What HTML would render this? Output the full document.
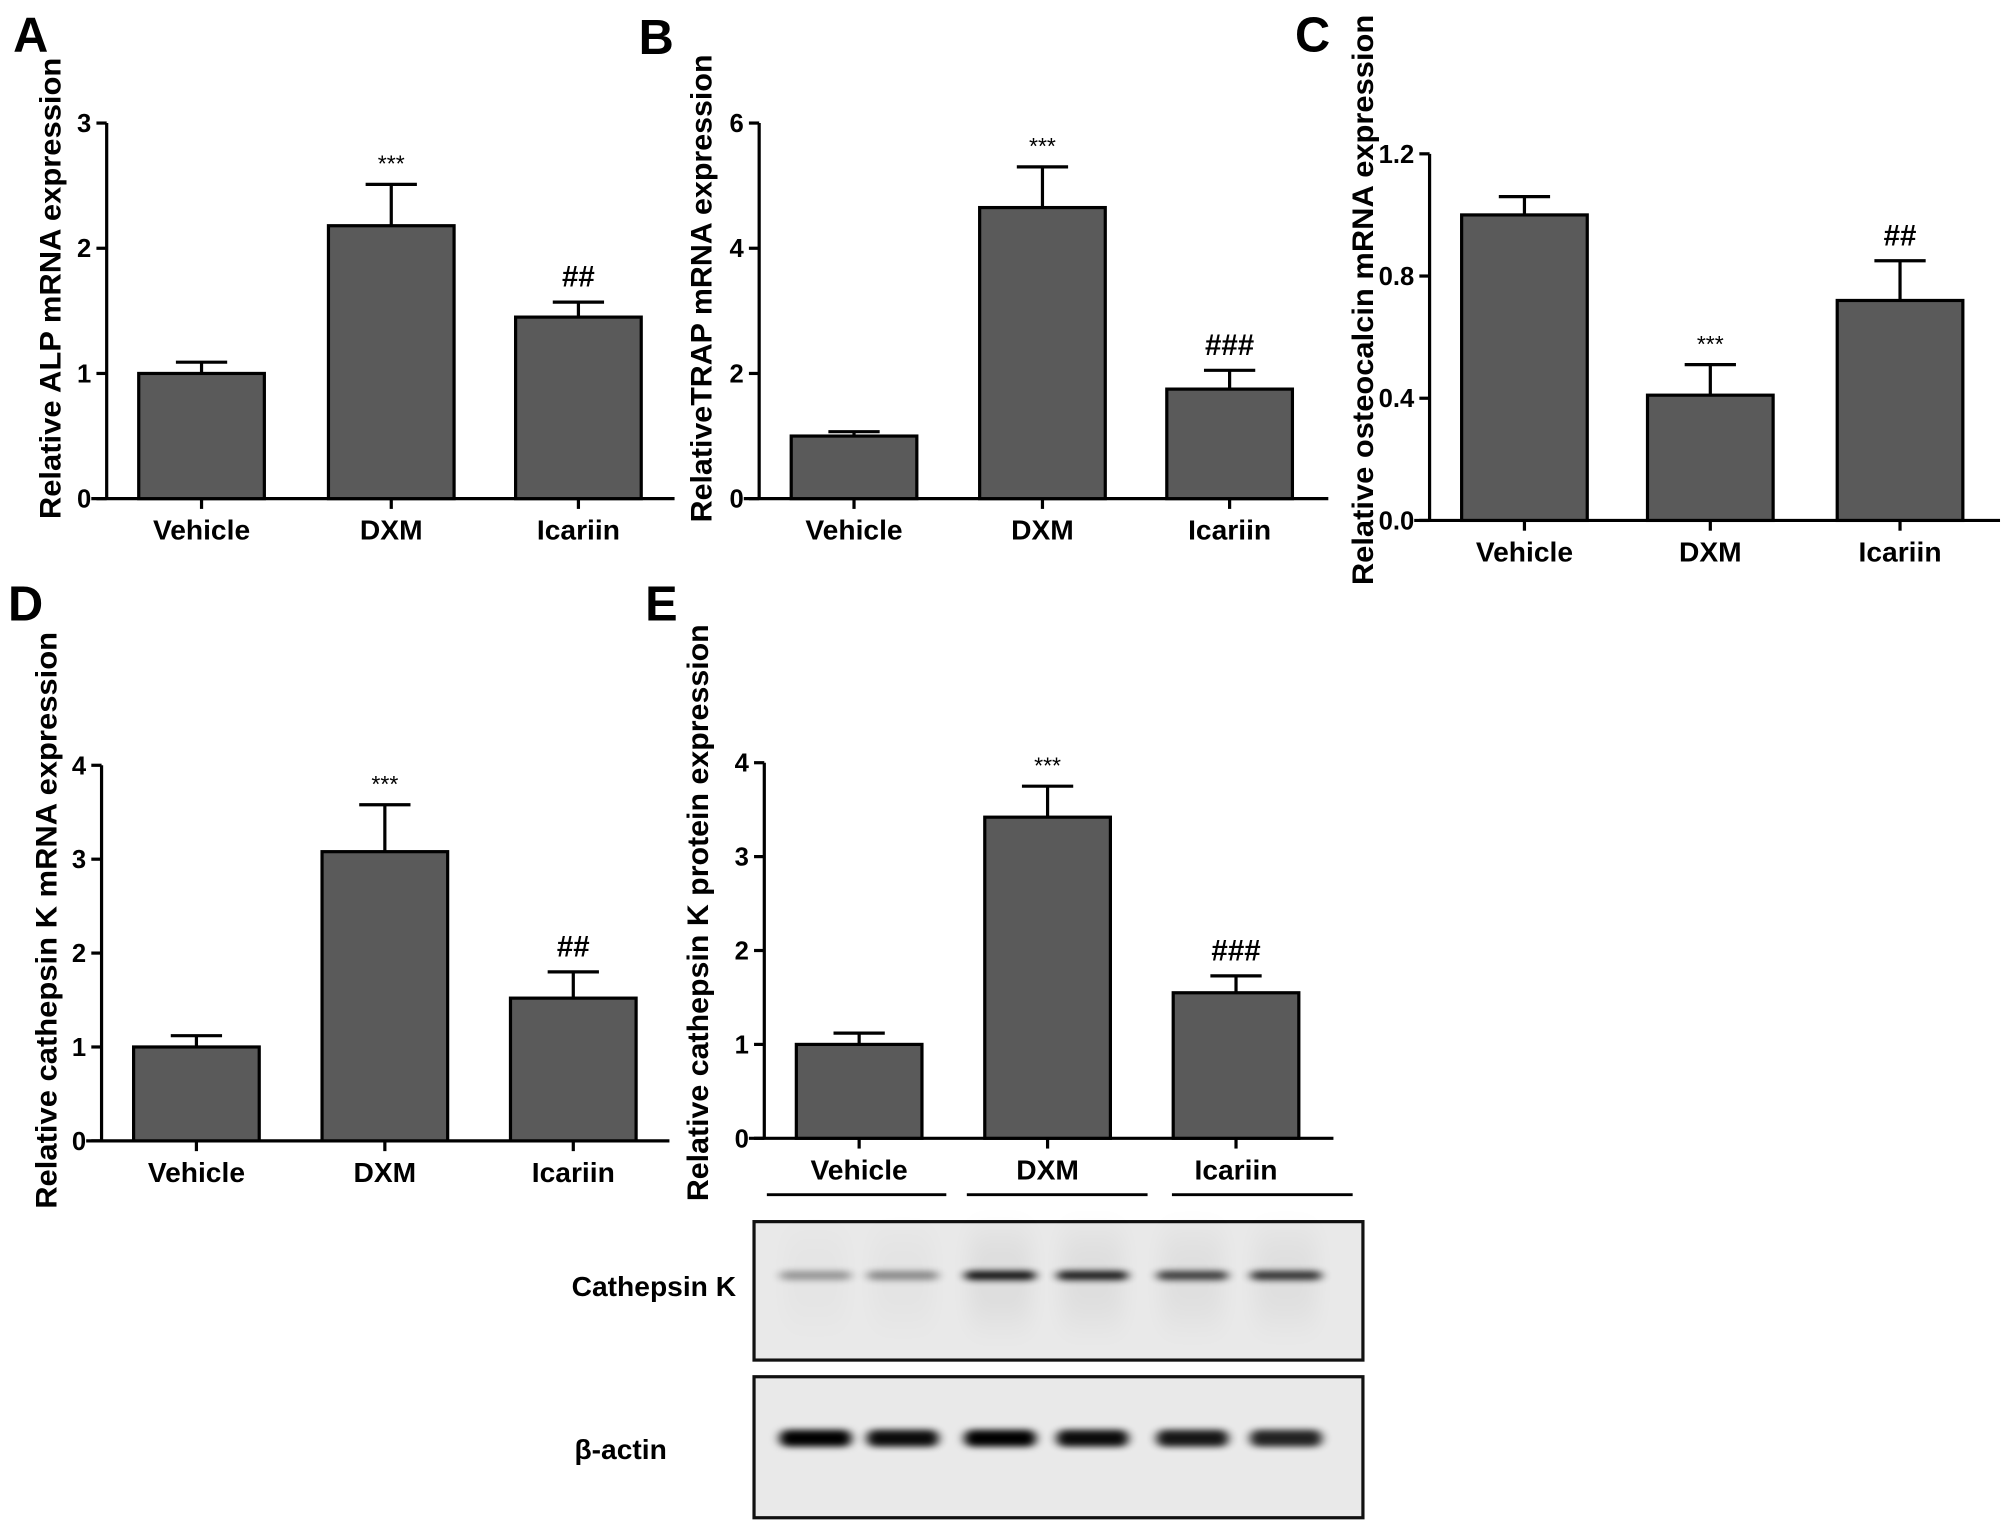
<!DOCTYPE html>
<html><head><meta charset="utf-8"><style>
html,body{margin:0;padding:0;background:#fff;}
svg{display:block;font-family:"Liberation Sans",Arial,sans-serif;font-weight:bold;}
</style></head><body>
<svg id="fig" width="2008" height="1528" viewBox="0 0 1566 1192" xmlns="http://www.w3.org/2000/svg">
<defs>
<filter id="blur" x="-30%" y="-100%" width="160%" height="300%"><feGaussianBlur stdDeviation="4 2.5"/></filter>
<filter id="blur2" x="-30%" y="-100%" width="160%" height="300%"><feGaussianBlur stdDeviation="8 14"/></filter>
</defs>
<g id="root"></g>
</svg>
<script>
const categories = ["Vehicle", "DXM", "Icariin"];
const valuesA = [1.0, 2.18, 1.45];
const errorsA = [0.09, 0.33, 0.12];
const marksA = ["", "***", "##"];
const ticksA = ["0", "1", "2", "3"];
const valuesB = [1.0, 4.65, 1.75];
const errorsB = [0.07, 0.65, 0.30];
const marksB = ["", "***", "###"];
const ticksB = ["0", "2", "4", "6"];
const valuesC = [1.0, 0.41, 0.72];
const errorsC = [0.06, 0.10, 0.13];
const marksC = ["", "***", "##"];
const ticksC = ["0.0", "0.4", "0.8", "1.2"];
const valuesD = [1.0, 3.08, 1.52];
const errorsD = [0.12, 0.50, 0.28];
const marksD = ["", "***", "##"];
const ticksD = ["0", "1", "2", "3", "4"];
const valuesE = [1.0, 3.42, 1.55];
const errorsE = [0.12, 0.33, 0.18];
const marksE = ["", "***", "###"];
const ticksE = ["0", "1", "2", "3", "4"];
const bandCK = [0.35, 0.4, 0.95, 0.9, 0.75, 0.8];
const bandActin = [1, 0.95, 1, 0.95, 0.9, 0.85];

const NS = "http://www.w3.org/2000/svg";
const root = document.getElementById("root");
function mk(tag, attrs, parent, text) {
  const e = document.createElementNS(NS, tag);
  for (const k in attrs) e.setAttribute(k, attrs[k]);
  if (text !== undefined) e.textContent = text;
  (parent || root).appendChild(e);
  return e;
}

function panel(cfg) {
  const g = mk("g", {});
  
  
  const ticks = cfg.ticks;
  const max = parseFloat(ticks[ticks.length - 1]);
  const y = v => cfg.base - (v / max) * (cfg.base - cfg.top);
  const letter = mk("text", {x: cfg.lx, y: cfg.ly, "font-size": 38}, g, cfg.letter);
  
  
  const yl = mk("text", {transform: `translate(${cfg.ylx},${cfg.yly}) rotate(-90)`, "text-anchor": "middle", "font-size": 23, textLength: cfg.ylen, lengthAdjust: "spacingAndGlyphs"}, g, cfg.ylabel);
  
  
  const ax = mk("line", {x1: cfg.ax, x2: cfg.ax, y1: cfg.top, y2: cfg.base, stroke: "#000", "stroke-width": 2.5}, g);
  
  
  const xa = mk("line", {x1: cfg.ax - 12, x2: cfg.xend, y1: cfg.base, y2: cfg.base, stroke: "#000", "stroke-width": 2.5}, g);
  
  
  ticks.forEach(t => {
    const ty = y(parseFloat(t));
    mk("line", {x1: cfg.ax - 8, x2: cfg.ax, y1: ty, y2: ty, stroke: "#000", "stroke-width": 2.5}, g);
    const tl = mk("text", {x: cfg.ax - 12, y: ty + 7, "text-anchor": "end", "font-size": 20}, g, t);
    
    
  });
  categories.forEach((c, i) => {
    const x0 = cfg.bx[i], w = 98, cx = x0 + w / 2;
    const v = cfg.values[i], e = cfg.errors[i];
    const top = y(v), et = y(v + e);
    mk("line", {x1: cx, x2: cx, y1: et, y2: top, stroke: "#000", "stroke-width": 2.5}, g);
    mk("line", {x1: cx - 20, x2: cx + 20, y1: et, y2: et, stroke: "#000", "stroke-width": 2.5}, g);
    const bar = mk("rect", {x: x0, y: top, width: w, height: cfg.base - top, fill: "#5a5a5a", stroke: "#000", "stroke-width": 2.5}, g);
    
    
    if (cfg.marks[i]) {
      const star = cfg.marks[i].startsWith("*");
      const m = mk("text", {x: cx, y: et - (star ? 10 : 12), "text-anchor": "middle", "font-size": star ? 18 : 23, "font-weight": star ? "normal" : "bold"}, g, cfg.marks[i]);
      
      
    }
    mk("line", {x1: cx, x2: cx, y1: cfg.base, y2: cfg.base + 8, stroke: "#000", "stroke-width": 2.5}, g);
    const cl = mk("text", {x: cx, y: cfg.base + 32, "text-anchor": "middle", "font-size": 22}, g, c);
    
    
  });
}

panel({name: "panel-a-alp", letter: "A", lx: 10, ly: 40, ylabel: "Relative  ALP mRNA expression", ylen: 360, ylx: 47, yly: 225, ax: 83, top: 96, base: 389, xend: 526, bx: [108, 256, 402], values: valuesA, errors: errorsA, marks: marksA, ticks: ticksA});
panel({name: "panel-b-trap", letter: "B", lx: 498, ly: 42, ylabel: "RelativeTRAP mRNA expression", ylen: 365, ylx: 555, yly: 225, ax: 592, top: 96, base: 389, xend: 1036, bx: [617, 764, 910], values: valuesB, errors: errorsB, marks: marksB, ticks: ticksB});
panel({name: "panel-c-osteocalcin", letter: "C", lx: 1010, ly: 40, ylabel: "Relative osteocalcin mRNA expression", ylen: 445, ylx: 1071, yly: 234, ax: 1115, top: 120, base: 406, xend: 1560, bx: [1140, 1285, 1433], values: valuesC, errors: errorsC, marks: marksC, ticks: ticksC});
panel({name: "panel-d-cathepsin-mrna", letter: "D", lx: 6, ly: 484, ylabel: "Relative  cathepsin  K  mRNA expression", ylen: 450, ylx: 44, yly: 718, ax: 79, top: 597, base: 890, xend: 522, bx: [104, 251, 398], values: valuesD, errors: errorsD, marks: marksD, ticks: ticksD});
panel({name: "panel-e-cathepsin-protein", letter: "E", lx: 503, ly: 484, ylabel: "Relative  cathepsin K protein expression", ylen: 450, ylx: 552, yly: 712, ax: 596, top: 595, base: 888, xend: 1040, bx: [621, 768, 915], values: valuesE, errors: errorsE, marks: marksE, ticks: ticksE});

const gl = [[598, 738], [754, 895], [914, 1055]];
gl.forEach(p => mk("line", {x1: p[0], x2: p[1], y1: 932, y2: 932, stroke: "#000", "stroke-width": 2.2}));

function blot(name, y0, h, bands, bandY, bh, smear) {
  const g = mk("g", {});
  
  
  mk("rect", {x: 588, y: y0, width: 475, height: h, fill: "#e9e9e9", stroke: "#111", "stroke-width": 2.5}, g);
  const lanes = [636, 704, 780, 852, 930, 1003];
  bands.forEach((b, i) => {
    if (smear) mk("rect", {x: lanes[i] - 24, y: y0 + 10, width: 48, height: h - 40, fill: "#000", opacity: 0.05 * b, filter: "url(#blur2)"}, g);
    const r = mk("rect", {x: lanes[i] - 28, y: bandY - bh / 2, width: 56, height: bh, rx: 6, fill: "#000", opacity: b, filter: "url(#blur)"}, g);
    
    
  });
}
blot("blot-cathepsin-k", 953, 108, bandCK, 995, 7, true);
blot("blot-beta-actin", 1074, 110, bandActin, 1122, 13, false);
const t1 = mk("text", {x: 574, y: 1011, "text-anchor": "end", "font-size": 22}, root, "Cathepsin K");


const t2 = mk("text", {x: 520, y: 1138, "text-anchor": "end", "font-size": 22}, root, "β-actin");


</script>
</body></html>
